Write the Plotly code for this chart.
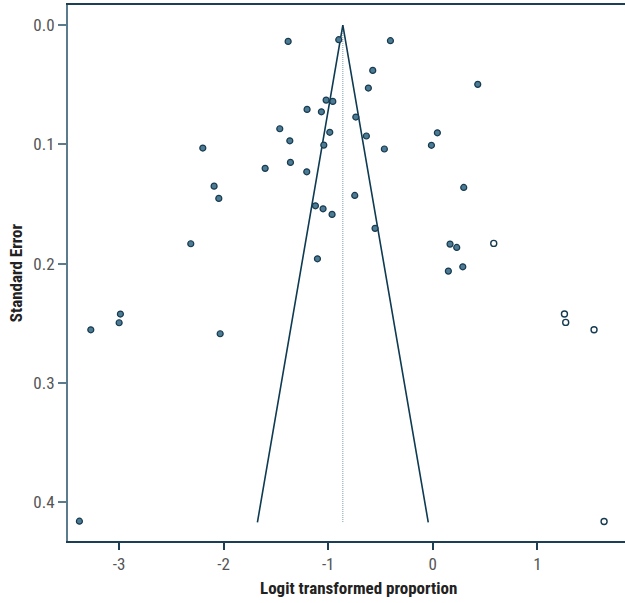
import plotly.graph_objects as go

# Observed studies (logit proportion, standard error)
obs_x = [-1.383, -0.899, -0.405, -0.574, -0.616, -1.020, -0.956, -1.202, -1.065, -0.736,
         -1.463, -0.985, -1.367, -0.635, -2.199, -1.042, -0.463, -1.603, -1.361, -1.205,
         -2.091, -2.046, -0.746, -1.122, -1.049, -0.963, -0.552, -2.314, -1.103,
         0.430, 0.044, -0.013, 0.296, 0.165, 0.229, 0.287, 0.149,
         -2.987, -2.999, -3.270, -2.033, -3.379]
obs_se = [0.0137, 0.0123, 0.0131, 0.0380, 0.0528, 0.0629, 0.0640, 0.0707, 0.0727, 0.0771,
          0.0869, 0.0899, 0.0970, 0.0930, 0.1031, 0.1006, 0.1039, 0.1201, 0.1151, 0.1230,
          0.1350, 0.1453, 0.1428, 0.1515, 0.1540, 0.1587, 0.1704, 0.1833, 0.1959,
          0.0497, 0.0903, 0.1008, 0.1361, 0.1836, 0.1864, 0.2026, 0.2062,
          0.2422, 0.2495, 0.2554, 0.2587, 0.4158]

# Imputed (trim-and-fill) studies
fill_x = [0.583, 1.259, 1.271, 1.542, 1.638]
fill_se = [0.1830, 0.2422, 0.2492, 0.2554, 0.4160]

pooled = -0.86
se_max = 0.4167
z = 1.96

funnel_x = [pooled - z * se_max, pooled, pooled + z * se_max]
funnel_y = [se_max, 0.0, se_max]

navy = "#0e3a52"
font_fam = "Liberation Sans Narrow, Roboto Condensed, Arial Narrow, Roboto, sans-serif"

fig = go.Figure()
fig.add_trace(go.Scatter(x=[pooled, pooled], y=[0.0, se_max], mode="lines",
                         line=dict(color="#7f98a8", width=1, dash="1px,1px"),
                         showlegend=False, hoverinfo="skip"))
fig.add_trace(go.Scatter(x=funnel_x, y=funnel_y, mode="lines",
                         line=dict(color=navy, width=1.6),
                         showlegend=False, hoverinfo="skip"))
fig.add_trace(go.Scatter(x=obs_x, y=obs_se, mode="markers",
                         marker=dict(size=6, color="#4d7b93",
                                     line=dict(color="#163a50", width=1.2)),
                         showlegend=False))
fig.add_trace(go.Scatter(x=fill_x, y=fill_se, mode="markers",
                         marker=dict(size=6, color="white",
                                     line=dict(color="#163a50", width=1.4)),
                         showlegend=False))

fig.add_annotation(text="<b>Logit transformed proportion</b>", xref="paper", yref="paper",
                   x=0.5207, y=-0.0877, xanchor="center", yanchor="middle", showarrow=False,
                   font=dict(size=17, color="#222222", family=font_fam))

fig.update_layout(
    width=625, height=603,
    margin=dict(l=68, r=0, t=5, b=62),
    paper_bgcolor="white", plot_bgcolor="white",
    font=dict(family=font_fam, color="#555555", size=17),
    xaxis=dict(range=[-3.488, 1.838], tickvals=[-3, -2, -1, 0, 1],
               ticktext=["-3", "-2", "-1", "0", "1"],
               showgrid=False, zeroline=False,
               showline=True, linecolor="#1d3f56", linewidth=2, mirror=True,
               ticks="outside", ticklen=7, tickcolor="#1d3f56", tickwidth=1.5),
    yaxis=dict(range=[0.4324, -0.0168], tickvals=[0.0, 0.1, 0.2, 0.3, 0.4],
               ticktext=["0.0", "0.1", "0.2", "0.3", "0.4"],
               showgrid=False, zeroline=False,
               showline=True, linecolor="#5b7b8f", linewidth=2,
               ticks="outside", ticklen=8, tickcolor="#5b7b8f", tickwidth=1.5,
               title=dict(text="<b>Standard Error</b>",
                          font=dict(size=17, color="#222222", family=font_fam),
                          standoff=6)),
)

fig.write_html("out.html")
